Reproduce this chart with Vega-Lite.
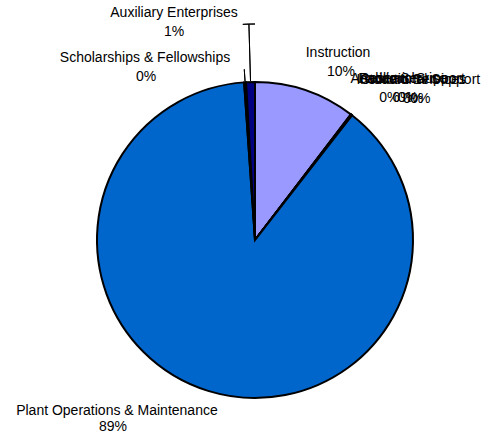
{
  "$schema": "https://vega.github.io/schema/vega-lite/v6.json",
  "width": 454,
  "height": 400,
  "autosize": {"type": "none"},
  "padding": {"left": 28, "top": 40, "right": 0, "bottom": 0},
  "background": "white",
  "view": {"stroke": null},
  "config": {"text": {"font": "Liberation Sans", "fontSize": 14, "fill": "#000000", "align": "center", "baseline": "middle"}},
  "data": {"values": [
    {"category": "Instruction", "value": 0.104, "order": 1},
    {"category": "Research", "value": 0.0003, "order": 2},
    {"category": "Public Service", "value": 0.0003, "order": 3},
    {"category": "Academic Support", "value": 0.0003, "order": 4},
    {"category": "Student Services", "value": 0.0003, "order": 5},
    {"category": "Institutional Support", "value": 0.0003, "order": 6},
    {"category": "Plant Operations & Maintenance", "value": 0.886, "order": 7},
    {"category": "Scholarships & Fellowships", "value": 0.002, "order": 8},
    {"category": "Auxiliary Enterprises", "value": 0.009, "order": 9}
  ]},
  "encoding": {
    "theta": {"field": "value", "type": "quantitative", "stack": true},
    "order": {"field": "order", "type": "quantitative"}
  },
  "layer": [
    {
      "mark": {"type": "arc", "outerRadius": 158, "stroke": "#000000", "strokeWidth": 2},
      "encoding": {
        "color": {
          "field": "category", "type": "nominal", "legend": null,
          "scale": {
            "domain": ["Instruction", "Research", "Public Service", "Academic Support", "Student Services", "Institutional Support", "Plant Operations & Maintenance", "Scholarships & Fellowships", "Auxiliary Enterprises"],
            "range": ["#9999FF", "#993366", "#FFFFCC", "#CCFFFF", "#660066", "#FF8080", "#0066CC", "#CCCCFF", "#000080"]
          }
        }
      }
    },
    {
      "mark": {"type": "arc", "innerRadius": 159, "outerRadius": 216, "padAngle": 1, "fill": null, "fillOpacity": 0, "stroke": "#000000", "strokeWidth": 1},
      "encoding": {"strokeOpacity": {"condition": {"test": "datum.order == 9", "value": 1}, "value": 0}}
    },
    {
      "mark": {"type": "arc", "innerRadius": 216, "outerRadius": 216, "fill": null, "fillOpacity": 0, "stroke": "#000000", "strokeWidth": 1},
      "encoding": {"strokeOpacity": {"condition": {"test": "datum.order == 9", "value": 1}, "value": 0}}
    },
    {
      "mark": {"type": "arc", "innerRadius": 159, "outerRadius": 171, "padAngle": 1, "fill": null, "fillOpacity": 0, "stroke": "#000000", "strokeWidth": 1},
      "encoding": {"strokeOpacity": {"condition": {"test": "datum.order == 8", "value": 1}, "value": 0}}
    },
    {
      "mark": {"type": "text", "radius": 175, "dx": 27, "dy": -21},
      "encoding": {"text": {"condition": {"test": "datum.order == 1", "field": "category"}, "value": ""}}
    },
    {
      "mark": {"type": "text", "radius": 175, "dx": 30, "dy": -2},
      "encoding": {"text": {"condition": {"test": "datum.order == 1", "field": "value", "type": "quantitative", "format": ".0%"}, "value": ""}}
    },
    {
      "mark": {"type": "text", "radius": 175, "dx": 28, "dy": -22},
      "encoding": {"text": {"condition": {"test": "datum.order == 2", "field": "category"}, "value": ""}}
    },
    {
      "mark": {"type": "text", "radius": 175, "dx": 28, "dy": -3},
      "encoding": {"text": {"condition": {"test": "datum.order == 2", "field": "value", "type": "quantitative", "format": ".0%"}, "value": ""}}
    },
    {
      "mark": {"type": "text", "radius": 175, "dx": 41, "dy": -22},
      "encoding": {"text": {"condition": {"test": "datum.order == 3", "field": "category"}, "value": ""}}
    },
    {
      "mark": {"type": "text", "radius": 175, "dx": 41, "dy": -3},
      "encoding": {"text": {"condition": {"test": "datum.order == 3", "field": "value", "type": "quantitative", "format": ".0%"}, "value": ""}}
    },
    {
      "mark": {"type": "text", "radius": 175, "dx": 46, "dy": -22},
      "encoding": {"text": {"condition": {"test": "datum.order == 4", "field": "category"}, "value": ""}}
    },
    {
      "mark": {"type": "text", "radius": 175, "dx": 46, "dy": -3},
      "encoding": {"text": {"condition": {"test": "datum.order == 4", "field": "value", "type": "quantitative", "format": ".0%"}, "value": ""}}
    },
    {
      "mark": {"type": "text", "radius": 175, "dx": 51, "dy": -22},
      "encoding": {"text": {"condition": {"test": "datum.order == 5", "field": "category"}, "value": ""}}
    },
    {
      "mark": {"type": "text", "radius": 175, "dx": 51, "dy": -3},
      "encoding": {"text": {"condition": {"test": "datum.order == 5", "field": "value", "type": "quantitative", "format": ".0%"}, "value": ""}}
    },
    {
      "mark": {"type": "text", "radius": 175, "dx": 56, "dy": -22},
      "encoding": {"text": {"condition": {"test": "datum.order == 6", "field": "category"}, "value": ""}}
    },
    {
      "mark": {"type": "text", "radius": 175, "dx": 58, "dy": -3},
      "encoding": {"text": {"condition": {"test": "datum.order == 6", "field": "value", "type": "quantitative", "format": ".0%"}, "value": ""}}
    },
    {
      "mark": {"type": "text", "radius": 175, "dx": -87, "dy": 4},
      "encoding": {"text": {"condition": {"test": "datum.order == 7", "field": "category"}, "value": ""}}
    },
    {
      "mark": {"type": "text", "radius": 175, "dx": -91, "dy": 20},
      "encoding": {"text": {"condition": {"test": "datum.order == 7", "field": "value", "type": "quantitative", "format": ".0%"}, "value": ""}}
    },
    {
      "mark": {"type": "text", "radius": 175, "dx": -99, "dy": -7},
      "encoding": {"text": {"condition": {"test": "datum.order == 8", "field": "category"}, "value": ""}}
    },
    {
      "mark": {"type": "text", "radius": 175, "dx": -98, "dy": 12},
      "encoding": {"text": {"condition": {"test": "datum.order == 8", "field": "value", "type": "quantitative", "format": ".0%"}, "value": ""}}
    },
    {
      "mark": {"type": "text", "radius": 175, "dx": -76, "dy": -52},
      "encoding": {"text": {"condition": {"test": "datum.order == 9", "field": "category"}, "value": ""}}
    },
    {
      "mark": {"type": "text", "radius": 175, "dx": -76, "dy": -33},
      "encoding": {"text": {"condition": {"test": "datum.order == 9", "field": "value", "type": "quantitative", "format": ".0%"}, "value": ""}}
    }
  ]
}
